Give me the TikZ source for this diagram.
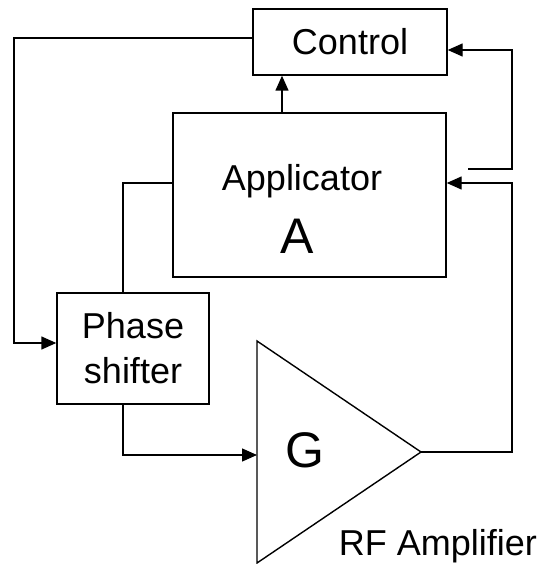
\documentclass[tikz,border=0pt]{standalone}
\usepackage{fontspec}
\setmainfont{Liberation Sans}
\usepackage{tikz}
\usetikzlibrary{arrows.meta, positioning, calc}
\tikzset{
  block/.style={rectangle, draw=black, fill=white, inner sep=0pt,
    align=center, font=\fontsize{36}{45}\selectfont, line width=1.4pt},
  bigtxt/.style={inner sep=0pt, anchor=base, font=\fontsize{50}{55}\selectfont},
  txt/.style={inner sep=0pt, anchor=base, font=\fontsize{36}{45}\selectfont},
  arrow/.style={-{Triangle[length=15pt,width=13pt]}, line width=1.4pt, color=black},
  line/.style={line width=1.4pt, color=black}
}
\begin{document}
\begin{tikzpicture}[x=1pt, y=-1pt]
  \useasboundingbox (0,0) rectangle (550,564);

  % blocks
  \node[block, minimum width=194pt, minimum height=66pt] (ctrl) at (350,42) {Control};
  \node[block, minimum width=273pt, minimum height=164pt] (app) at (309.5,195) {};
  \node[txt] (applbl) at (302,190) {Applicator};
  \node[bigtxt] (alabel) at (297,253) {A};
  \node[block, minimum width=152pt, minimum height=111pt] (phase) at (133,348.5) {Phase\\shifter};

  % RF amplifier
  \draw[line, line join=miter] (257,341) -- (421,452) -- (257,563) -- cycle;
  \coordinate (ampin) at (257,455);
  \coordinate (ampout) at (421,452);
  \node[bigtxt] (glabel) at (305,467) {G};
  \node[txt] (rflabel) at (438,555) {RF Amplifier};

  % connectors
  \draw[arrow] (ctrl.west |- 0,38) -- (14,38) |- (phase.west |- 0,343);
  \draw[arrow] (app.north -| 282,0) -- (ctrl.south -| 282,0);
  \draw[arrow] (468,169) -- (512,169) |- (ctrl.east |- 0,50);
  \draw[arrow] (ampout) -- (512,452) |- (app.east |- 0,183);
  \draw[line] (app.west |- 0,183) -- (123,183) -- (phase.north -| 123,0);
  \draw[arrow] (phase.south -| 123,0) |- (ampin);
\end{tikzpicture}
\end{document}
